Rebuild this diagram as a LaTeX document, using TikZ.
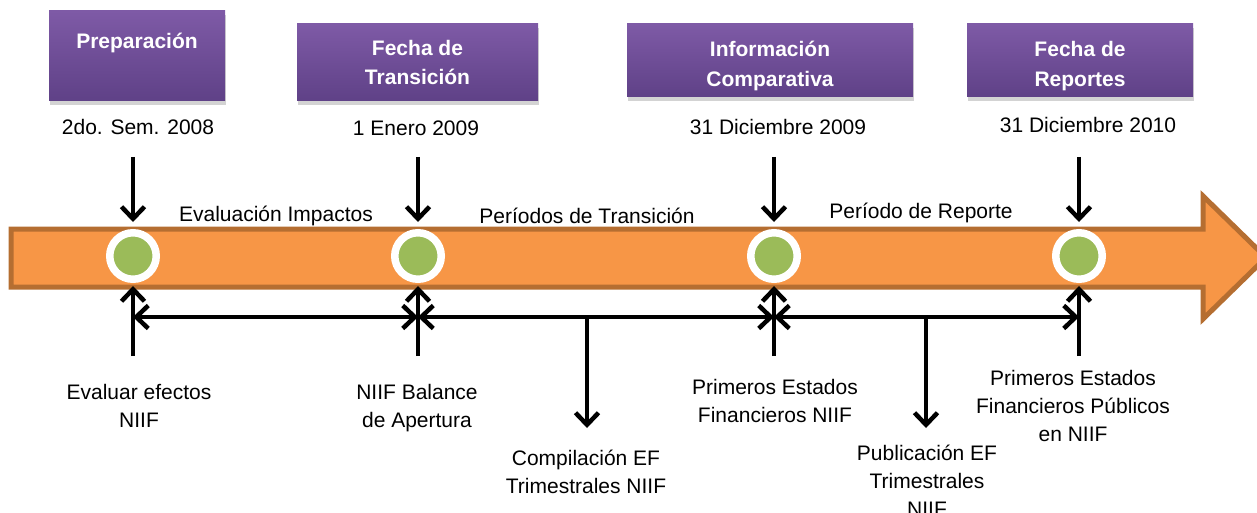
\documentclass[tikz,border=0pt]{standalone}
\usepackage{fontspec}
\setmainfont{Liberation Sans}
\usetikzlibrary{arrows.meta,shadows}
\definecolor{purpT}{HTML}{7E5AA6}
\definecolor{purpB}{HTML}{5F4187}
\definecolor{orangeF}{HTML}{F79646}
\definecolor{orangeD}{HTML}{B56E31}
\definecolor{greenF}{HTML}{9BBB59}
\begin{document}
\begin{tikzpicture}[x=1pt,y=-1pt,
  phase/.style={rectangle, top color=purpT, bottom color=purpB, text=white,
    font=\bfseries\fontsize{21}{29.5}\selectfont, align=center, inner sep=0pt,
    drop shadow={opacity=0.35,shadow xshift=1pt,shadow yshift=-4pt}},
  datetxt/.style={font=\fontsize{21}{28}\selectfont, fill=white, inner sep=0pt,
    minimum height=44pt},
  lbl/.style={font=\fontsize{21}{28}\selectfont, align=center, inner sep=0pt},
  dot/.style={circle, fill=greenF, draw=white, line width=7.5pt, minimum size=46.5pt,
    inner sep=0pt, drop shadow={opacity=0.3,shadow xshift=1pt,shadow yshift=-2pt}},
  conn/.style={line width=4.5pt, -{Straight Barb[length=12pt,width=23pt]}},
  biconn/.style={line width=4.5pt,
    {Straight Barb[length=12pt,width=23pt]}-{Straight Barb[length=12pt,width=23pt]}},
]
\useasboundingbox (0,0) rectangle (1257,513);

% big orange arrow
\draw[fill=orangeF, draw=orangeD, line width=5pt, line join=miter]
  (11,229) -- (1203,229) -- (1203,196) -- (1266,257.5) -- (1203,319)
  -- (1203,287) -- (11,287) -- cycle;

% phase boxes
\node[phase, minimum width=176pt, minimum height=90pt] (b1) at (137,56) {Preparación\\~};
\node[phase, minimum width=241pt, minimum height=77pt] (b2) at (417.5,62.5) {Fecha de\\Transición};
\node[phase, minimum width=286pt, minimum height=73pt] (b3) at (770,60.5) {\rule{0pt}{26pt}Información\\Comparativa};
\node[phase, minimum width=226pt, minimum height=73pt] (b4) at (1080,60.5) {\rule{0pt}{26pt}Fecha de\\Reportes};

% dates
\node[datetxt] (d1) at (138,127) {2do. Sem. 2008};
\node[datetxt, minimum width=178pt] (d2) at (416,128) {1 Enero 2009};
\node[datetxt, minimum width=220pt] (d3) at (778,127) {31 Diciembre 2009};
\node[datetxt, minimum width=210pt] (d4) at (1088,125) {31 Diciembre 2010};

% period labels
\node[lbl] (p1) at (276,216) {Evaluación Impactos};
\node[lbl] (p2) at (587,216) {Períodos de Transición};
\node[lbl] (p3) at (921,213) {Período de Reporte};

% milestones
\node[dot] (c1) at (133,256) {};
\node[dot] (c2) at (418,256) {};
\node[dot] (c3) at (774,256) {};
\node[dot] (c4) at (1079,256) {};

% coordinates
\coordinate (t1) at (133,157);
\coordinate (t2) at (418,157);
\coordinate (t3) at (774,157);
\coordinate (t4) at (1079,157);
\coordinate (u1) at (133,356);
\coordinate (u2) at (418,356);
\coordinate (u3) at (774,356);
\coordinate (u4) at (1079,356);
\coordinate (hl) at (0,317);
\coordinate (m1) at (587,317);
\coordinate (m1e) at (587,428);
\coordinate (m2) at (926,317);
\coordinate (m2e) at (926,428);

% vertical arrows to the milestones
\foreach \i in {1,...,4}{
  \draw[conn] (t\i) -- ([yshift=7pt]c\i.north);
  \draw[conn] (u\i) -- ([yshift=-3pt]c\i.south);
}

% horizontal spans
\draw[biconn] (c1 |- hl) -- (c2 |- hl);
\draw[biconn] (c2 |- hl) -- (c3 |- hl);
\draw[biconn] (c3 |- hl) -- (c4 |- hl);
\draw[conn] (m1) -- (m1e);
\draw[conn] (m2) -- (m2e);

% bottom labels
\node[lbl] (l1) at (139,406) {Evaluar efectos\\NIIF};
\node[lbl] (l2) at (417,408) {NIIF Balance\\de Apertura};
\node[lbl] (l3) at (586,472) {Compilación EF\\Trimestrales NIIF};
\node[lbl] (l4) at (775,401) {Primeros Estados\\Financieros NIIF};
\node[lbl] (l5) at (927,481) {Publicación EF\\Trimestrales\\NIIF};
\node[lbl] (l6) at (1073,406) {Primeros Estados\\Financieros Públicos\\en NIIF};
\end{tikzpicture}
\end{document}
